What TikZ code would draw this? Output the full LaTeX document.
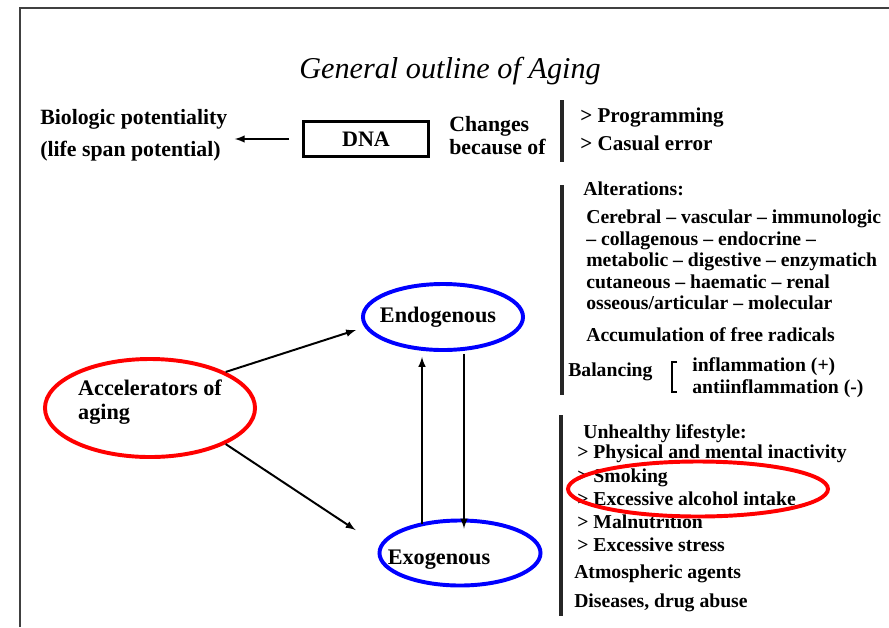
\documentclass[tikz,border=0pt]{standalone}
\usepackage{fontspec}
\setmainfont{Liberation Serif}
\usetikzlibrary{shapes.geometric,calc}
\begin{document}
\begin{tikzpicture}[x=0.025cm, y=-0.025cm,
  txt/.style={font=\bfseries\fontsize{14}{15.2}\selectfont, inner sep=0pt, align=left, anchor=north west},
  oval/.style={ellipse, draw, line width=2.8pt, inner ysep=0pt, inner xsep=-0.6cm, font=\bfseries\fontsize{15.8}{17}\selectfont, align=left},
  arr/.style={-latex, line width=1.4pt},
  bar/.style={line width=2.2pt, black!85}]
        \useasboundingbox (0,0) rectangle (889,627);
        \draw [line width=1.6pt, black!75] (20,627) -- (20,8) -- (889,8);
        \node [font=\itshape\fontsize{21.5}{25}\selectfont] (title) at (450,71) {General outline of Aging};
        \node [txt, font=\bfseries\fontsize{15.5}{22.7}\selectfont] (bio) at (40,109) {Biologic potentiality\\(life span potential)};
        \node [draw, line width=1.5pt, minimum width=3.125cm, minimum height=0.875cm, font=\bfseries\fontsize{15.7}{16}\selectfont] (dna) at (366,139) {DNA};
        \node [txt, font=\bfseries\fontsize{15.5}{16.3}\selectfont] (chg) at (449,116) {Changes\\because of};
        \node [txt, font=\bfseries\fontsize{15}{19.8}\selectfont] (prog) at (580,108) {> Programming\\> Casual error};
        \draw [arr, shorten <=0.33cm, shorten >=0.18cm] (dna.west) -- (dna.west -| bio.east);
        \draw [bar] (562,100) -- (562,162);
        \draw [bar] (562,185) -- (562,395);
        \draw [bar] (561,415) -- (561,616);
        \node [txt] (alt) at (583,182) {Alterations:};
        \node [txt] (organs) at (586,210) {Cerebral -- vascular -- immunologic\\-- collagenous -- endocrine --\\metabolic -- digestive -- enzymatich\\cutaneous -- haematic -- renal\\osseous/articular -- molecular};
        \node [txt] (radicals) at (586,327) {Accumulation of free radicals};
        \node [txt, anchor=west] (bal) at (568,372) {Balancing};
        \draw [line width=1pt] (677,362) -- (672,362) -- (672,392) -- (677,392);
        \node [txt, font=\bfseries\fontsize{14}{15.6}\selectfont] (infl) at (692,357) {inflammation (+)\\antiinflammation (-)};
        \node [txt] (life) at (583,424) {Unhealthy lifestyle:};
        \node [txt, font=\bfseries\fontsize{14}{16.5}\selectfont] (habits) at (577,445) {> Physical and mental inactivity\\> Smoking\\> Excessive alcohol intake\\> Malnutrition\\> Excessive stress};
        \node [txt] (atmo) at (574,565) {Atmospheric agents};
        \node [txt] (drugs) at (574,594) {Diseases, drug abuse};
        \draw [red, line width=2.8pt] (698,489) ellipse [x radius=130, y radius=27.5];
        \node [oval, red, text=black, minimum width=5.25cm, minimum height=2.45cm] (acc) at (150,408) {Accelerators of\\aging\rule[-0.4cm]{0pt}{0pt}\hspace{0.2cm}};
        \node [oval, blue, text=black, minimum width=4cm, minimum height=1.65cm] (endo) at (443,317) {Endogenous\hspace{0.25cm}};
        \node [oval, blue, text=black, minimum width=4.025cm, minimum height=1.625cm] (exo) at (460,553) {\rule{0pt}{0.7cm}Exogenous\hspace{1.05cm}};
        \draw [arr] (acc.north east) -- ($(endo.west)+(-5,13)$);
        \draw [arr] (acc.south east) -- ($(exo.west)+(-22,-23)$);
        \draw [arr] ($(exo.north)+(-38,5)$) -- ($(endo.south)+(-21,5)$);
        \draw [arr] ($(endo.south)+(21,2)$) -- ($(exo.north)+(4,10)$);
      \end{tikzpicture}
\end{document}
